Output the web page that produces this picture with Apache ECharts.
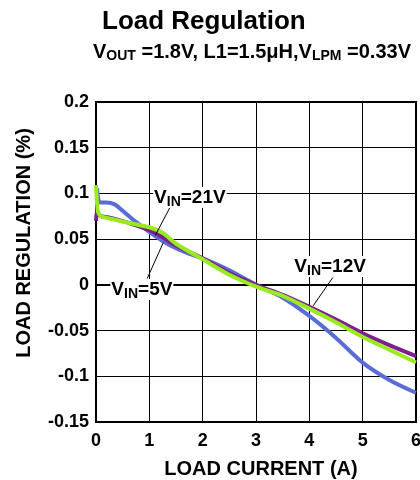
<!DOCTYPE html>
<html>
<head>
<meta charset="utf-8">
<script src="https://cdn.jsdelivr.net/npm/echarts@6/dist/echarts.min.js"></script>
<style>
  html, body { margin: 0; padding: 0; background: #fff; }
  #chart { width: 420px; height: 480px; }
</style>
</head>
<body>
<div id="chart"></div>
<script>
// Load regulation vs load current for three input voltages
const vin5X  = [0.02, 0.05, 0.1, 0.2, 0.35, 0.5, 0.7, 1.0, 1.25, 1.5, 1.75, 2.0, 2.5, 3.0, 3.5, 4.0, 4.5, 5.0, 5.5, 6.0];
const vin5Y  = [0.106, 0.092, 0.09, 0.09, 0.088, 0.081, 0.071, 0.058, 0.048, 0.04, 0.034, 0.029, 0.016, 0.0, -0.014, -0.034, -0.058, -0.085, -0.104, -0.118];

const vin12X = [0, 0.02, 0.05, 0.1, 0.3, 0.6, 1.0, 1.25, 1.5, 2.0, 2.5, 3.0, 3.5, 4.0, 4.5, 5.0, 5.5, 6.0];
const vin12Y = [0.07, 0.081, 0.077, 0.075, 0.073, 0.068, 0.06, 0.052, 0.043, 0.029, 0.013, 0.0, -0.011, -0.024, -0.038, -0.053, -0.066, -0.078];

const vin21X = [0, 0.03, 0.06, 0.1, 0.3, 0.6, 1.0, 1.25, 1.5, 2.0, 2.5, 3.0, 3.5, 4.0, 4.5, 5.0, 5.5, 6.0];
const vin21Y = [0.109, 0.082, 0.077, 0.075, 0.072, 0.068, 0.063, 0.057, 0.045, 0.028, 0.011, -0.002, -0.012, -0.026, -0.041, -0.057, -0.071, -0.085];

const xTicks = [0, 1, 2, 3, 4, 5, 6];
const yTicks = [-0.15, -0.1, -0.05, 0, 0.05, 0.1, 0.15, 0.2];

// Callout labels: text anchor and leader line, in data units
const callouts = [
  { name: '21V', text: [1.76, 0.0955], from: [1.39, 0.085], to: [1.11, 0.054] },
  { name: '5V',  text: [0.86, -0.005], from: [0.96, 0.007], to: [1.26, 0.046] },
  { name: '12V', text: [4.39, 0.020],  from: [4.44, 0.008], to: [4.07, -0.023] }
];

const FONT = '"Liberation Sans", Arial, sans-serif';
const pairs = (xs, ys) => xs.map((x, i) => [x, ys[i]]);
const fmt = v => String(Math.round(v * 100) / 100);

const calloutRich = {
  v: { fontFamily: FONT, fontWeight: 'bold', fontSize: 19, color: '#000', lineHeight: 21 },
  s: { fontFamily: FONT, fontWeight: 'bold', fontSize: 14, color: '#000', lineHeight: 21, padding: [10, 0, 0, 0] }
};

const chart = echarts.init(document.getElementById('chart'), null, { renderer: 'canvas' });

const lineSeries = (name, xs, ys, color) => ({
  name, type: 'line', data: pairs(xs, ys), showSymbol: false, smooth: 0.3,
  lineStyle: { color, width: 4 }, z: 3, silent: true
});

const axisText = { fontFamily: FONT, fontWeight: 'bold', fontSize: 18, color: '#000' };
const nameText = { fontFamily: FONT, fontWeight: 'bold', fontSize: 20, color: '#000' };

chart.setOption({
  animation: false,
  backgroundColor: '#fff',
  title: [
    { text: 'Load Regulation', left: 102, top: 9, padding: 0,
      textStyle: { fontFamily: FONT, fontWeight: 'bold', fontSize: 26, color: '#000' } },
    { text: '{v|V}{s|OUT}{v| =1.8V, L1=1.5μH,V}{s|LPM}{v| =0.33V}', left: 93, top: 41, padding: 0,
      textStyle: { rich: {
        v: { fontFamily: FONT, fontWeight: 'bold', fontSize: 20, color: '#000', lineHeight: 22 },
        s: { fontFamily: FONT, fontWeight: 'bold', fontSize: 14, color: '#000', lineHeight: 22, padding: [9, 0, 0, 0] }
      } } }
  ],
  grid: { left: 96, right: 4, top: 102, bottom: 58, show: true, borderColor: '#000', borderWidth: 2,
    containLabel: false, outerBoundsMode: 'none' },
  xAxis: {
    type: 'value', min: xTicks[0], max: xTicks[xTicks.length - 1], interval: 1,
    name: 'LOAD CURRENT (A)', nameLocation: 'middle', nameGap: 37,
    nameTextStyle: Object.assign({ padding: [0, 0, 0, 10] }, nameText),
    axisLine: { lineStyle: { color: '#000', width: 2 } },
    axisTick: { show: false },
    axisLabel: Object.assign({ margin: 10, formatter: fmt }, axisText),
    splitLine: { lineStyle: { color: '#000', width: 1 } }
  },
  yAxis: {
    type: 'value', min: yTicks[0], max: yTicks[yTicks.length - 1], interval: 0.05,
    name: 'LOAD REGULATION (%)', nameLocation: 'middle', nameGap: 62, nameRotate: 90,
    nameTextStyle: Object.assign({ padding: [0, 0, 0, 38] }, nameText),
    axisLine: { lineStyle: { color: '#000', width: 2 } },
    axisTick: { show: false },
    axisLabel: Object.assign({ margin: 7, formatter: fmt }, axisText),
    splitLine: { lineStyle: { color: '#000', width: 1 } }
  },
  series: [
    lineSeries('VIN=5V', vin5X, vin5Y, '#5b6cd6'),
    lineSeries('VIN=12V', vin12X, vin12Y, '#7d1f8c'),
    lineSeries('VIN=21V', vin21X, vin21Y, '#99ea1f'),
    {
      name: 'callouts', type: 'scatter', data: [], silent: true, z: 5,
      markLine: {
        silent: true, symbol: 'none', animation: false,
        lineStyle: { color: '#000', width: 1, type: 'solid' },
        label: { show: false },
        data: callouts.map(c => [{ coord: c.from }, { coord: c.to }])
      },
      markPoint: {
        silent: true, symbol: 'circle', symbolSize: 0,
        label: { show: true, position: 'inside', formatter: p => p.name, rich: calloutRich,
          backgroundColor: '#fff', padding: [0, 1, 0, 1] },
        data: callouts.map(c => ({ name: '{v|V}{s|IN}{v|=' + c.name + '}', coord: c.text }))
      }
    }
  ]
});
</script>
</body>
</html>
